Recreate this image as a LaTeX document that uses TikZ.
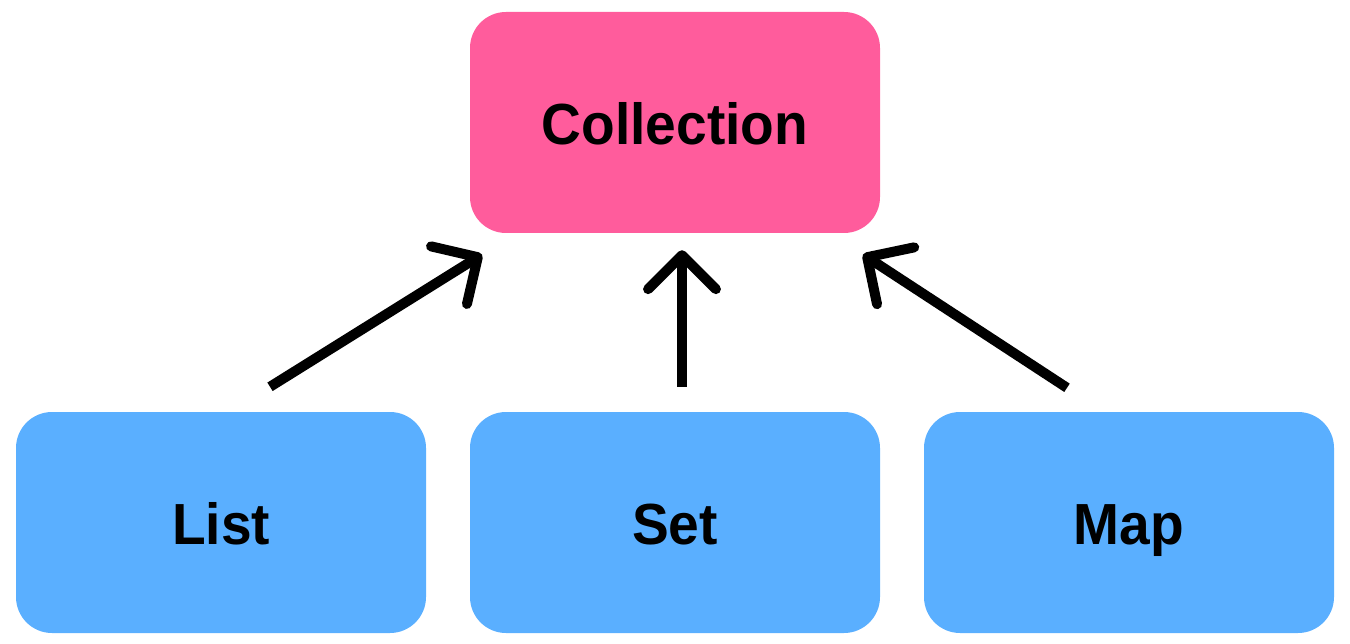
\documentclass[tikz,border=0pt]{standalone}
\usepackage{fontspec}
\setmainfont{Liberation Sans}[FakeStretch=0.95]
\usetikzlibrary{calc}
\definecolor{pinkbox}{HTML}{FF5C9C}
\definecolor{bluebox}{HTML}{5AAFFF}
\tikzset{
  box/.style={rounded corners=36pt, minimum width=410pt, minimum height=221pt, inner sep=0pt, text height=50pt, text depth=6pt, font=\fontsize{58}{60}\selectfont\bfseries, text=black},
  shaft/.style={line width=10pt, black},
  barb/.style={line width=10pt, black, line cap=round, line join=round},
}
\begin{document}
\begin{tikzpicture}[x=1pt,y=-1pt]
\useasboundingbox (0,0) rectangle (1350,644);
\node[box, fill=pinkbox] (coll) at (675,122.5) {Collection};
\node[box, fill=bluebox] (list) at (221,522.5) {List};
\node[box, fill=bluebox] (set) at (675,522.5) {Set};
\node[box, fill=bluebox] (map) at (1129,522.5) {Map};
% arrow end points
\coordinate (la) at ($(list.north)+(49,-25)$);
\coordinate (lb) at ($(coll.south west)+(8,24)$);
\coordinate (sa) at ($(set.north)+(7,-25)$);
\coordinate (sb) at ($(coll.south)+(7,22)$);
\coordinate (ma) at ($(map.north)+(-62,-24)$);
\coordinate (mb) at ($(coll.south east)+(-13,24)$);
\foreach \a/\b in {la/lb, sa/sb, ma/mb}{
  \draw[shaft] (\a) -- ($(\b)!5pt!(\a)$);
  \draw[barb] ($(\b)!48pt!45:(\a)$) -- (\b) -- ($(\b)!48pt!-45:(\a)$);
}
\end{tikzpicture}
\end{document}
